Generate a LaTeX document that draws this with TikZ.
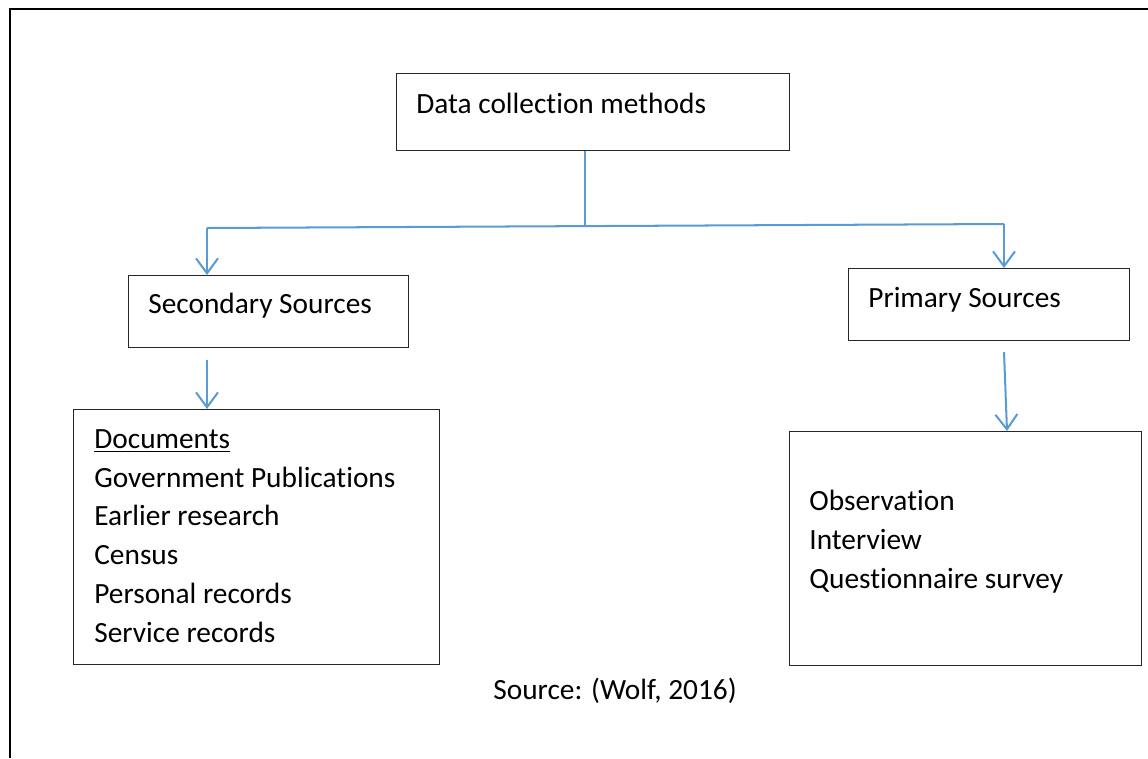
\documentclass[tikz,border=0pt]{standalone}
\usepackage{fontspec}
\setmainfont{Carlito}[Ligatures=NoCommon]
\usetikzlibrary{arrows.meta}
\definecolor{linkblue}{HTML}{5B9BD5}

\begin{document}
\begin{tikzpicture}[x=0.02cm,y=-0.02cm]
\tikzstyle{box}=[draw=black!85,line width=0.8pt,inner sep=0pt,anchor=north west]
\tikzstyle{txt}=[inner sep=0pt,anchor=base west,font=\fontsize{16.7}{22.1}\selectfont]
\tikzstyle{list}=[txt,anchor=north west,align=left]
\tikzstyle{link}=[line width=1.15pt,draw=linkblue]
\tikzstyle{arr}=[link,-{Straight Barb[length=8.5pt,width=12.5pt,line width=1.15pt]}]

\useasboundingbox (0,0) rectangle (1148,758);
\draw[line width=1.7pt] (10,758) -- (10,9) -- (1148,9);

\node[box,minimum width=7.86cm,minimum height=1.54cm] (dcm) at (396,73) {};
\node[box,minimum width=5.6cm,minimum height=1.44cm] (sec) at (128,275) {};
\node[box,minimum width=5.62cm,minimum height=1.44cm] (pri) at (848,268) {};
\node[box,minimum width=7.32cm,minimum height=5.1cm] (docs) at (73,409) {};
\node[box,minimum width=7.04cm,minimum height=4.68cm] (meth) at (789,431) {};

\node[txt] (dcmtxt) at (416,113) {Data collection methods};
\node[txt] (sectxt) at (148,313) {Secondary Sources};
\node[txt] (pritxt) at (868,307) {Primary Sources};
\node[list] (docstxt) at (94,429) {\underline{Documents}\\Government Publications\\Earlier research\\Census\\Personal records\\Service records};
\node[list] (methtxt) at (809,490) {Observation\\Interview\\Questionnaire survey};
\node[txt,anchor=base] (srctxt) at (615,699) {Source: (Wolf, 2016)};

\coordinate (jtop) at (585,226);
\coordinate (jl) at (207,228);
\coordinate (jr) at (1004,224);
\coordinate (sl) at (207,360);
\coordinate (pl) at (1004,352);
\coordinate (ml) at (1007,429);
\draw[link] (dcm.south -| jtop) -- (jtop);
\draw[link] (jl) -- (jr);
\draw[arr] (jl) -- (jl |- sec.north);
\draw[arr] (jr) -- (jr |- pri.north);
\draw[arr] (sl) -- (sl |- docs.north);
\draw[arr] (pl) -- (ml |- meth.north);
\end{tikzpicture}
\end{document}
